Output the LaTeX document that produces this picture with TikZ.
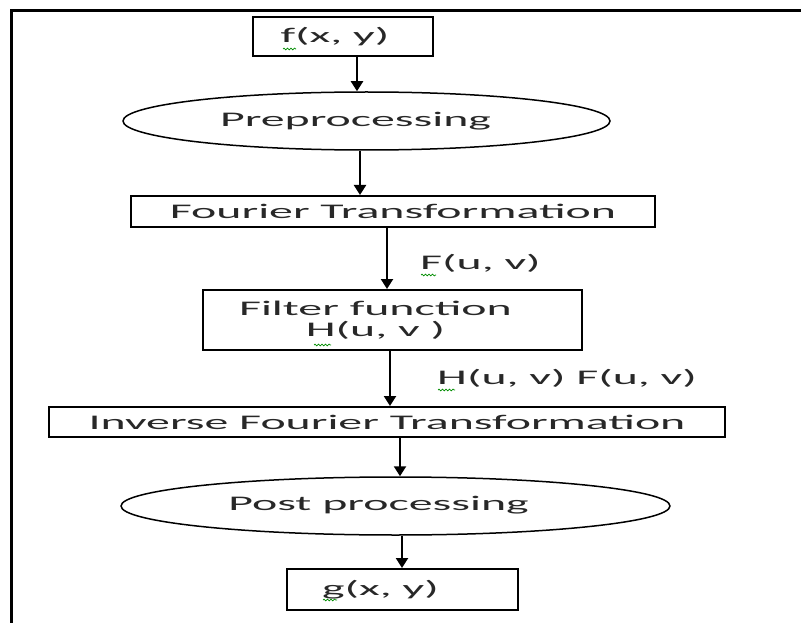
\documentclass[tikz,border=0pt]{standalone}
\usepackage{fontspec}
\usepackage{graphicx}
\setmainfont{Carlito}
\usetikzlibrary{arrows.meta,shapes.geometric,decorations.pathmorphing}
\definecolor{ink}{RGB}{40,40,40}
\newcommand{\wide}[1]{\scalebox{2.3}[1]{#1}}
\tikzset{
  txt/.style={font=\fontsize{20.8}{21}\selectfont, text=ink},
  boxnode/.style={draw, line width=2pt, rectangle, inner sep=0pt, txt},
  ovalnode/.style={draw, line width=1.5pt, ellipse, inner sep=0pt, txt},
  labnode/.style={inner sep=0pt, anchor=west, txt},
  arr/.style={-{Triangle[width=12pt,length=10pt]}, line width=2.2pt},
  squig/.style={draw=green!55!black, line width=0.7pt, decorate,
    decoration={snake, amplitude=0.9pt, segment length=3.5pt}}
}
\begin{document}
\begin{tikzpicture}[x=1pt,y=-1pt]
\useasboundingbox (0,0) rectangle (801,623);
\draw[line width=3pt] (11,623) -- (11,11) -- (801,11);

\node[boxnode, minimum width=180pt, minimum height=39pt] (fxy) at (343,36.5)
  {\wide{f(x, y)}\hspace*{16pt}};
\node[ovalnode, minimum width=487pt, minimum height=58pt] (pre) at (366.5,121)
  {\raisebox{4pt}{\wide{Preprocessing}}\hspace*{22pt}};
\node[boxnode, minimum width=524pt, minimum height=31pt] (ft) at (393,211.5)
  {\wide{Fourier Transformation}};
\node[boxnode, minimum width=379pt, minimum height=60pt, align=center] (filt) at (392.5,320)
  {\wide{Filter function}\hspace*{34pt}\\\wide{H(u, v )}\hspace*{34pt}};
\node[boxnode, minimum width=676pt, minimum height=30pt] (inv) at (387,422)
  {\wide{Inverse Fourier Transformation}};
\node[ovalnode, minimum width=549pt, minimum height=58pt] (post) at (395.5,506)
  {\raisebox{6pt}{\wide{Post processing}}\hspace*{34pt}};
\node[boxnode, minimum width=231pt, minimum height=41pt] (gxy) at (402.5,589.5)
  {\wide{g(x, y)}\hspace*{44pt}};

\node[labnode] (lF) at (420,263) {\wide{F(u, v)}};
\node[labnode] (lHF) at (437,378) {\wide{H(u, v) F(u, v)}};

\draw[arr] ([xshift=14pt]fxy.south) -- ([xshift=-9.5pt]pre.north);
\draw[arr] ([xshift=-6.5pt]pre.south) -- ([xshift=-33pt]ft.north);
\draw[arr] ([xshift=-6pt]ft.south) -- ([xshift=-5.5pt]filt.north);
\draw[arr] ([xshift=-2.5pt]filt.south) -- ([xshift=3pt]inv.north);
\draw[arr] ([xshift=13pt]inv.south) -- ([xshift=4.5pt]post.north);
\draw[arr] ([xshift=6.5pt]post.south) -- ([xshift=-0.5pt]gxy.north);

\path[squig] (283,49) -- (296,49);
\path[squig] (421,275) -- (436,275);
\path[squig] (314,345) -- (331,345);
\path[squig] (438,390) -- (455,390);
\path[squig] (323,600) -- (337,600);
\end{tikzpicture}
\end{document}
